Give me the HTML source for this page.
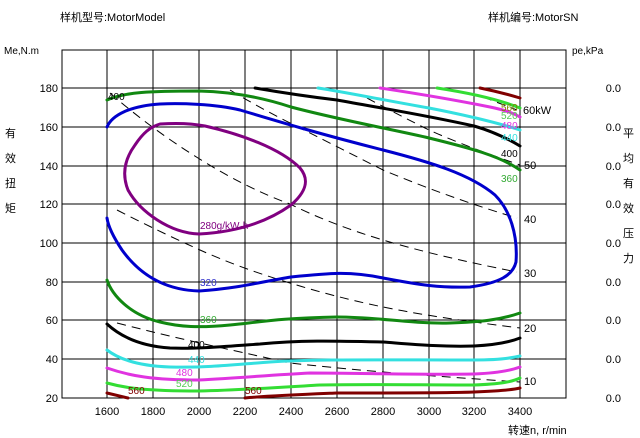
<!DOCTYPE html>
<html><head><meta charset="utf-8"><style>
html,body{margin:0;padding:0;background:#fff;}
svg{display:block;font-family:"Liberation Sans","Noto Sans CJK SC",sans-serif;}
</style></head><body>
<svg width="640" height="438" viewBox="0 0 640 438" xmlns="http://www.w3.org/2000/svg">
<rect width="640" height="438" fill="#fff"/>
<text x="60" y="21" font-size="11" fill="#000">样机型号:MotorModel</text>
<text x="488" y="21" font-size="11" fill="#000">样机编号:MotorSN</text>
<text x="4" y="54" font-size="10" fill="#000">Me,N.m</text>
<text x="572" y="54" font-size="10" fill="#000">pe,kPa</text>
<g font-size="11" fill="#000">
<text x="5" y="137">有</text><text x="5" y="162">效</text><text x="5" y="187">扭</text><text x="5" y="212">矩</text>
<text x="623" y="137">平</text><text x="623" y="162">均</text><text x="623" y="187">有</text><text x="623" y="212">效</text><text x="623" y="237">压</text><text x="623" y="262">力</text>
</g>
<!-- grid -->
<g stroke="#000" stroke-width="1">
<rect x="62" y="50" width="504" height="348" fill="none"/>
<line x1="62" y1="88" x2="566" y2="88"/><line x1="62" y1="127" x2="566" y2="127"/><line x1="62" y1="166" x2="566" y2="166"/><line x1="62" y1="204" x2="566" y2="204"/><line x1="62" y1="243" x2="566" y2="243"/><line x1="62" y1="282" x2="566" y2="282"/><line x1="62" y1="320" x2="566" y2="320"/><line x1="62" y1="359" x2="566" y2="359"/>
<line x1="107" y1="50" x2="107" y2="398"/><line x1="153" y1="50" x2="153" y2="398"/><line x1="199" y1="50" x2="199" y2="398"/><line x1="245" y1="50" x2="245" y2="398"/><line x1="291" y1="50" x2="291" y2="398"/><line x1="337" y1="50" x2="337" y2="398"/><line x1="383" y1="50" x2="383" y2="398"/><line x1="429" y1="50" x2="429" y2="398"/><line x1="474" y1="50" x2="474" y2="398"/><line x1="520" y1="50" x2="520" y2="398"/>
</g>
<g font-size="11" fill="#000" text-anchor="end">
<text x="58" y="92">180</text><text x="58" y="131">160</text><text x="58" y="170">140</text><text x="58" y="208">120</text><text x="58" y="247">100</text><text x="58" y="286">80</text><text x="58" y="324">60</text><text x="58" y="363">40</text><text x="58" y="402">20</text>
</g>
<g font-size="11" fill="#000" text-anchor="end">
<text x="621" y="92">0.0</text><text x="621" y="131">0.0</text><text x="621" y="170">0.0</text><text x="621" y="208">0.0</text><text x="621" y="247">0.0</text><text x="621" y="286">0.0</text><text x="621" y="324">0.0</text><text x="621" y="363">0.0</text><text x="621" y="402">0.0</text>
</g>
<g font-size="11" fill="#000" text-anchor="middle">
<text x="107" y="415">1600</text><text x="153" y="415">1800</text><text x="199" y="415">2000</text><text x="245" y="415">2200</text><text x="291" y="415">2400</text><text x="337" y="415">2600</text><text x="383" y="415">2800</text><text x="429" y="415">3000</text><text x="474" y="415">3200</text><text x="520" y="415">3400</text>
</g>
<text x="508" y="434" font-size="11" fill="#000">转速n, r/min</text>
<!-- dashed power lines -->
<g fill="none" stroke="#000" stroke-width="1" stroke-dasharray="9,6">
<path d="M110,93 Q150,128 198,158 T290,204 Q330,224 383,240 T517,272"/>
<path d="M230,90 Q260,108 290,123 T383,170 Q450,198 517,218"/>
<path d="M367,98 Q395,113 423,127 T520,165"/>
<path d="M483,97 L517,110"/>
<path d="M117,210 Q160,232 200,250 T290,283 Q335,297 383,307 T520,328"/>
<path d="M117,323 Q160,334 200,343 T290,363 Q335,368 383,372 T520,382"/>
</g>
<g fill="none" stroke-width="3" stroke-linejoin="round" stroke-linecap="round">
<!-- upper contours -->
<path stroke="#118811" d="M107,100 C125,92 150,91 199,91 C240,92 270,100 291,107 C340,120 400,131 429,138 C470,148 500,156 520,170"/>
<path stroke="#000" d="M255,88 C290,94 320,98 337,100 C380,108 420,114 474,126 C495,132 510,140 520,146"/>
<path stroke="#33e0e0" d="M318,88 C350,93 383,100 429,108 C465,115 495,122 520,130"/>
<path stroke="#e033e0" d="M380,88 C420,94 460,101 490,107 C505,110 515,114 520,117"/>
<path stroke="#33dd33" d="M437,88 C470,93 500,100 520,108"/>
<path stroke="#800000" d="M480,88 C500,92 510,95 520,98"/>
<!-- blue 320 -->
<path stroke="#0000cc" d="M107,127 C112,115 130,106 160,104 C180,103 215,104 240,110 C280,122 320,134 383,150 C430,162 470,174 495,195 C510,210 518,235 516,262 C513,275 500,283 470,287 C440,288 420,285 383,278 C350,271 330,273 291,277 C260,282 240,288 199,291 C165,290 140,275 122,250 C112,235 108,225 107,218"/>
<!-- purple 280 -->
<path stroke="#800080" d="M160,124 C175,123 190,123 205,126 C240,134 280,148 300,168 C310,180 306,192 291,205 C270,220 240,232 199,234 C170,233 140,212 128,190 C122,175 124,160 135,145 C143,133 150,127 160,124 Z"/>
<!-- lower contours -->
<path stroke="#118811" d="M107,280 C112,295 130,315 160,322 C180,327 199,328 230,325 C260,322 280,318 337,317 C380,317 410,324 450,323 C480,322 500,320 520,313"/>
<path stroke="#000" d="M107,324 C120,336 140,346 170,348 C199,349 230,346 260,344 C300,340 337,341 383,342 C410,344 440,347 474,346 C495,345 510,342 520,338"/>
<path stroke="#33e0e0" d="M107,350 C120,360 140,366 170,367 C210,368 240,364 270,362 C310,359 383,360 474,360 C500,360 512,358 520,356"/>
<path stroke="#e033e0" d="M107,368 C130,376 153,380 199,380 C240,378 270,375 310,373 C360,373 420,375 474,374 C500,373 512,370 520,367"/>
<path stroke="#33dd33" d="M107,383 C125,388 145,391 199,391 C240,390 270,388 320,385 C370,384 420,385 474,385 C500,384 512,382 520,378"/>
<path stroke="#800000" d="M107,393 L128,398"/>
<path stroke="#800000" d="M245,398 C265,396 290,395 337,393 C400,393 450,393 474,392 C500,391 512,390 520,388"/>
</g>
<!-- labels -->
<g font-size="10">
<text x="108" y="100" fill="#000">400</text>
<text x="523" y="114" fill="#000" font-size="11">60kW</text>
<text x="524" y="169" fill="#000" font-size="11">50</text>
<text x="524" y="223" fill="#000" font-size="11">40</text>
<text x="524" y="277" fill="#000" font-size="11">30</text>
<text x="524" y="332" fill="#000" font-size="11">20</text>
<text x="524" y="385" fill="#000" font-size="11">10</text>
<text x="501" y="111" fill="#808000">560</text>
<text x="501" y="119" fill="#55cc55">520</text>
<text x="501" y="129" fill="#e033e0">480</text>
<text x="501" y="141" fill="#33e0e0">440</text>
<text x="501" y="157" fill="#000">400</text>
<text x="501" y="182" fill="#33aa33">360</text>
<text x="200" y="229" fill="#800080">280g/kW·h</text>
<text x="200" y="286" fill="#3333cc">320</text>
<text x="200" y="323" fill="#33aa33">360</text>
<text x="188" y="348" fill="#000">400</text>
<text x="188" y="363" fill="#33e0e0">440</text>
<text x="176" y="376" fill="#e033e0">480</text>
<text x="176" y="387" fill="#55cc55">520</text>
<text x="128" y="394" fill="#800000">560</text>
<text x="245" y="394" fill="#800000">560</text>
</g>
</svg>
</body></html>
